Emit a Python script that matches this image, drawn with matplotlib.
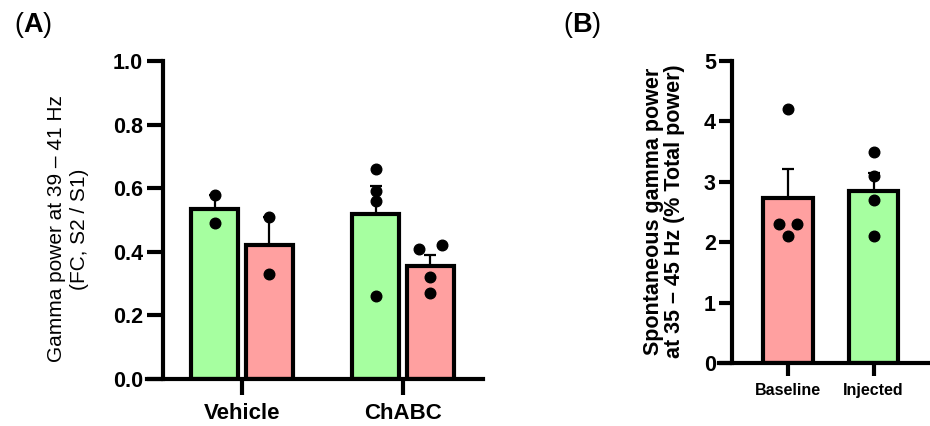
import numpy as np
import matplotlib
matplotlib.use("Agg")
from matplotlib import pyplot as plt

plt.rcParams['font.family'] = ['Liberation Sans', 'DejaVu Sans']
plt.rcParams['mathtext.fontset'] = 'custom'
plt.rcParams['mathtext.rm'] = 'Liberation Sans'
plt.rcParams['mathtext.bf'] = 'Liberation Sans:bold'

# Panel A data (individual animals)
groups_a = ['Vehicle', 'ChABC']
veh_green = [0.58, 0.49]
veh_red = [0.51, 0.33]
chabc_green = [0.66, 0.59, 0.56, 0.26]
chabc_red = [0.41, 0.42, 0.32, 0.27]

# Panel B data
groups_b = ['Baseline', 'Injected']
baseline = [4.2, 2.3, 2.3, 2.1]
injected = [3.5, 3.1, 2.7, 2.1]

green = '#a6ffa0'
red = '#ffa0a0'
lw = 3


def mean_sem(v):
    v = np.asarray(v)
    return v.mean(), v.std(ddof=1) / np.sqrt(len(v))


def bar_with_dots(ax, x, vals, color, width, offsets, ms):
    m, s = mean_sem(vals)
    ax.bar(x, m, width, color=color, edgecolor='black', linewidth=lw, zorder=2)
    ax.errorbar(x, m, yerr=[[0], [s]], fmt='none', ecolor='black',
                elinewidth=1.6, capsize=4.5, capthick=1.6, zorder=3)
    ax.scatter(x + np.asarray(offsets), vals, s=ms, color='black', zorder=4,
               clip_on=False)


def style_axis(ax, spine_x, ticklen):
    # spine position first: it resets the ticks
    for side in ['top', 'right']:
        ax.spines[side].set_visible(False)
    ax.spines['left'].set_position(('data', spine_x))
    ax.spines['left'].set_linewidth(lw)
    ax.spines['bottom'].set_linewidth(lw)
    ax.spines['left'].set_capstyle('projecting')
    ax.tick_params(axis='both', length=ticklen, width=lw)


fig = plt.figure(figsize=(9.3, 4.26), dpi=100)

# ---- Panel A ----
axA = fig.add_axes([147 / 930, 47 / 426, 336 / 930, 318 / 426])
style_axis(axA, -0.49, 11.5)
d = 0.17
w = 0.29
bar_with_dots(axA, 0 - d, veh_green, green, w, [0, 0], 58)
bar_with_dots(axA, 0 + d, veh_red, red, w, [0, 0], 58)
bar_with_dots(axA, 1 - d, chabc_green, green, w, [0, 0, 0, 0], 58)
bar_with_dots(axA, 1 + d, chabc_red, red, w, [-0.07, 0.07, 0, 0], 58)
axA.set_xlim(-0.59, 1.497)
axA.set_ylim(0, 1.0)
axA.set_yticks([0, 0.2, 0.4, 0.6, 0.8, 1.0])
axA.set_yticklabels(['0.0', '0.2', '0.4', '0.6', '0.8', '1.0'],
                    fontsize=15.5, fontweight='bold')
axA.set_xticks([0, 1])
axA.set_xticklabels(groups_a, fontsize=16, fontweight='bold')
axA.tick_params(axis='y', pad=3)
axA.tick_params(axis='x', pad=6)

fig.text(68 / 930, 1 - 229 / 426, 'Gamma power at 39 – 41 Hz\n(FC, S2 / S1)',
         rotation=90, ha='center', va='center', fontsize=15, linespacing=1.25)

# ---- Panel B ----
axB = fig.add_axes([719 / 930, 63 / 426, 211 / 930, 302 / 426])
style_axis(axB, -0.66, 9.5)
wb = 0.58
bar_with_dots(axB, 0, baseline, red, wb, [0, -0.105, 0.105, 0], 58)
bar_with_dots(axB, 1, injected, green, wb, [0, 0, 0, 0], 58)
axB.set_xlim(-0.81, 1.66)
axB.set_ylim(0, 5)
axB.set_yticks([0, 1, 2, 3, 4, 5])
axB.set_yticklabels(['0', '1', '2', '3', '4', '5'], fontsize=15.5, fontweight='bold')
axB.set_xticks([0, 1])
axB.set_xticklabels(groups_b, fontsize=11.5, fontweight='bold')
axB.tick_params(axis='y', pad=2)
axB.tick_params(axis='x', pad=5)

fig.text(664 / 930, 1 - 211 / 426,
         'Spontaneous gamma power\nat 35 – 45 Hz (% Total power)',
         rotation=90, ha='center', va='center', fontsize=15.5,
         fontweight='bold', linespacing=1.05)

# panel letters
fig.text(14 / 930, 1 - 25 / 426, r'($\mathbf{A}$)', fontsize=19.5, ha='left', va='center')
fig.text(563 / 930, 1 - 25 / 426, r'($\mathbf{B}$)', fontsize=19.5, ha='left', va='center')

plt.savefig('out.png', dpi=100)
